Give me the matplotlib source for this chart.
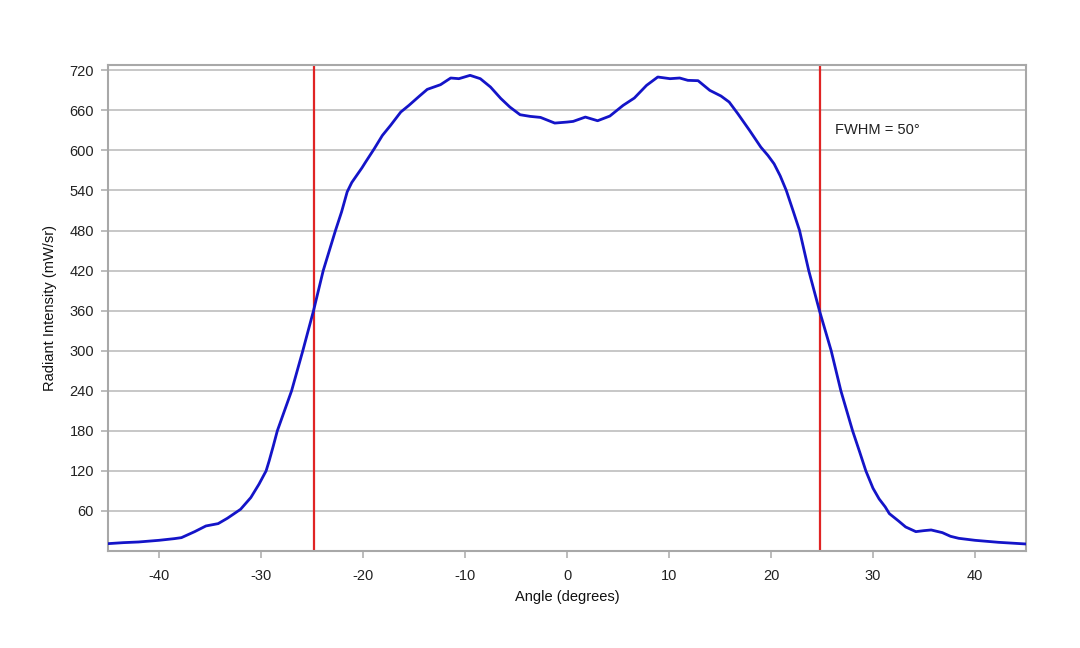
import matplotlib
matplotlib.use("Agg")
import matplotlib.pyplot as plt

plt.rcParams['font.family'] = ['Liberation Sans', 'DejaVu Sans']

angle = [-45, -43.5, -42, -40, -38.5, -37.8, -36.5, -35.4, -34.2, -33.3, -32.0, -31.0, -30.2,
         -29.5, -29.2, -28.8, -28.4, -27.0, -25.9, -24.85, -23.9, -22.7, -22.1, -21.55, -21.1,
         -20.6, -20.1, -19.75, -18.9,
         -18.1, -17.3, -16.3, -15.5, -14.5, -13.7, -13.05, -12.4, -11.4, -10.6, -9.5, -8.5, -7.5,
         -6.5, -5.6, -4.6, -3.6, -2.6, -1.2, 0, 0.6, 1.8, 3.0, 4.2, 5.5, 6.6, 7.8, 8.9, 10.1,
         11.05, 11.85, 12.85, 14.0, 15.1, 15.9, 16.75, 17.9, 19.0, 19.7, 20.3, 20.9, 21.5, 22.2,
         22.8, 23.7, 24.75, 25.9, 26.85, 28.0, 28.7, 29.3, 30.0, 30.6, 31.2, 31.6, 32.5, 33.2,
         34.2, 35.0, 35.7, 36.8, 37.6, 38.4, 40, 42.3, 45]
intensity = [11, 12.5, 13.5, 16, 18.5, 20, 29, 37.5, 41, 49, 62.5, 80, 100,
             120, 135, 157, 180, 240, 300, 360, 420, 480, 508, 538, 552,
             563, 574, 582.5, 602.5,
             622.5, 637.5, 657.5, 667.5, 681, 691.5, 695, 698.5, 708.5, 707.5, 712.5, 707.5, 695,
             678, 665, 653.5, 651, 649.5, 641, 642.5, 643.5, 650, 644.5, 651.5, 667.5, 678.5, 697.5, 710, 707.5,
             708.5, 705, 704.5, 690, 681.5, 672.5, 655, 630, 605, 592.5, 580, 562, 540, 508,
             480, 420, 360, 300, 240, 180, 148, 120, 94, 78, 66, 56, 45, 36,
             29, 30.5, 31.5, 27.5, 22, 19, 16, 13, 10.5]

fwhm_lines = [-24.8, 24.8]
x_ticks = [-40, -30, -20, -10, 0, 10, 20, 30, 40]
y_ticks = [60, 120, 180, 240, 300, 360, 420, 480, 540, 600, 660, 720]

fig = plt.figure(figsize=(10.8, 6.48), dpi=100)
ax = fig.add_axes([0.1, 0.1497, 0.85, 0.75])

ax.plot(angle, intensity, color='#1414c8', linewidth=2.0, zorder=3,
        solid_joinstyle='round', solid_capstyle='round')
for xv in fwhm_lines:
    ax.axvline(xv, color='#e02424', linewidth=1.6, zorder=2)

ax.set_xlim(-45, 45)
ax.set_ylim(0, 728)
ax.set_xticks(x_ticks)
ax.set_xticklabels([str(t) for t in x_ticks])
ax.set_yticks(y_ticks)
ax.set_yticklabels([str(t) for t in y_ticks])
ax.grid(axis='y', color='#bdbdbd', linewidth=1.2, zorder=0)
ax.set_axisbelow(True)
for s in ax.spines.values():
    s.set_color('#a8a8a8')
    s.set_linewidth(1.5)
ax.tick_params(axis='both', labelsize=10.5, labelcolor='#222222', color='#b0b0b0',
               length=5, width=1.2, direction='out')
ax.tick_params(axis='x', pad=8)
ax.tick_params(axis='y', pad=5)

ax.text(26.3, 630, 'FWHM = 50°', fontsize=10.5, color='#222222', va='center', ha='left')
ax.set_xlabel('Angle (degrees)', fontsize=10.5, color='#111111', labelpad=5)
ax.set_ylabel('Radiant Intensity (mW/sr)', fontsize=10.5, color='#111111', labelpad=9)

fig.savefig('out.png', dpi=100)
